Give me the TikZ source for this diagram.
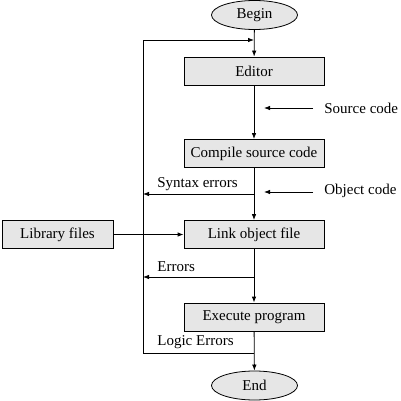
\documentclass[tikz,border=0pt]{standalone}
\usepackage{fontspec}
\setmainfont{Liberation Serif}
\usetikzlibrary{shapes.geometric,arrows.meta}
\definecolor{boxgray}{RGB}{230,230,230}
\newcommand\myfs{\fontsize{15}{18}\selectfont}
\begin{document}
\begin{tikzpicture}[x=1pt,y=-1pt,line width=0.8pt,
  box/.style={draw,fill=boxgray,minimum width=140pt,minimum height=28pt,inner sep=0pt,font=\myfs},
  term/.style={ellipse,draw,fill=boxgray,minimum width=86pt,minimum height=29pt,inner sep=0pt,font=\myfs},
  lbl/.style={inner sep=0pt,font=\myfs,anchor=west},
  arr/.style={-{Latex[length=6pt,width=4.5pt]}}]
\useasboundingbox (0,0) rectangle (400,401);
\node[term] (begin) at (254.5,15) {Begin};
\node[box] (editor) at (254,71) {Editor};
\node[box] (compile) at (254,153.5) {Compile source code};
\node[box] (link) at (254,234.5) {Link object file};
\node[box,minimum width=111pt] (lib) at (57.5,234.5) {Library files};
\node[box] (exec) at (254,317) {Execute program};
\node[term] (end) at (254.5,385.5) {End};
% labels
\node[lbl] (src) at (324,108) {Source code};
\node[lbl] (obj) at (324,191) {Object code};
\node[lbl] (syn) at (157,184) {Syntax errors};
\node[lbl] (err) at (157,267) {Errors};
\node[lbl] (logic) at (157,342) {Logic Errors};
% coordinates
\coordinate (mt) at (254,40);
\coordinate (lt) at (143,40);
\coordinate (lb) at (143,353);
\coordinate (mb) at (254,353);
\coordinate (seR) at (254,194);
\coordinate (seL) at (143,194);
\coordinate (erR) at (254,277);
\coordinate (erL) at (143,277);
\coordinate (srcA) at (313,108);
\coordinate (srcB) at (264,108);
\coordinate (objA) at (313,192);
\coordinate (objB) at (264,192);
% main flow
\draw[arr] (begin) -- (editor);
\draw[arr] (editor) -- (compile);
\draw[arr] (compile) -- (link);
\draw[arr] (link) -- (exec);
\draw[arr] (exec) -- (end);
\draw[arr] (lib) -- (link);
% loop
\draw[arr] (mb) -- (lb) -- (lt) -- (mt);
\draw[arr] (seR) -- (seL);
\draw[arr] (erR) -- (erL);
% inputs
\draw[arr] (srcA) -- (srcB);
\draw[arr] (objA) -- (objB);
\end{tikzpicture}
\end{document}
